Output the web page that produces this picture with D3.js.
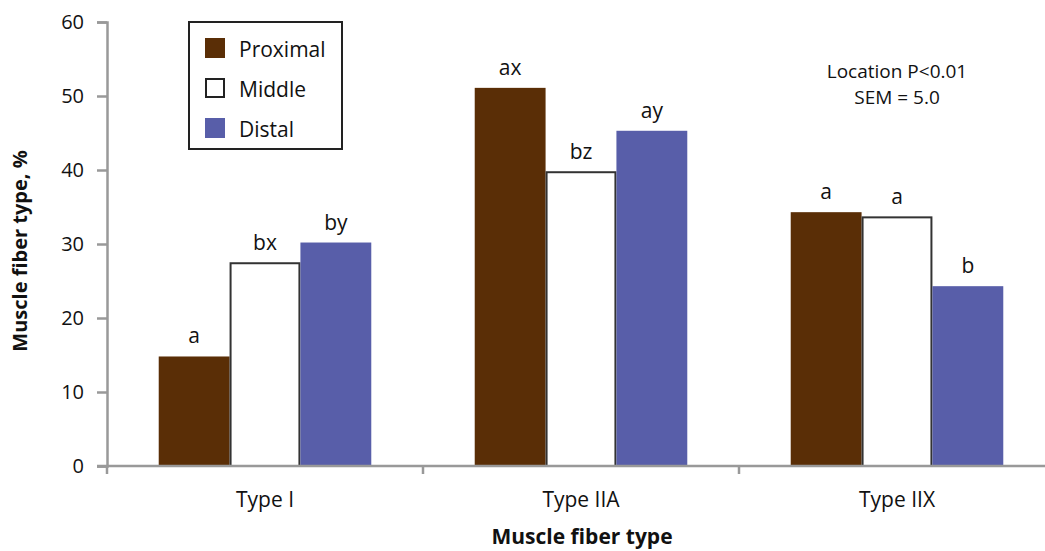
<!DOCTYPE html>
<html><head><meta charset="utf-8">
<script src="https://cdn.jsdelivr.net/npm/d3@7"></script>
<style>body{margin:0;background:#fff}svg{display:block}text{font-family:"Open Sans",sans-serif}</style>
</head><body><svg id="c" width="1045" height="551"></svg>
<script>
const categories = ["Type I", "Type IIA", "Type IIX"];
const seriesNames = ["Proximal", "Middle", "Distal"];
const proximal = [14.8, 51.1, 34.3];
const middle = [27.4, 39.7, 33.6];
const distal = [30.2, 45.3, 24.3];
const letters = [["a","bx","by"],["ax","bz","ay"],["a","a","b"]];
const yTicks = [0,10,20,30,40,50,60];

const svg = d3.select("#c");
const mLeft = 107, mRight = 1055, mTop = 22, mBottom = 466;
const x = d3.scaleBand().domain(categories).range([mLeft, mRight]).paddingInner(0).paddingOuter(0);
const x1 = d3.scaleBand().domain(seriesNames).range([0, x.bandwidth()]).paddingInner(0).paddingOuter(0.73);
const y = d3.scaleLinear().domain([0,60]).range([mBottom, mTop]);
const colors = {Proximal:"#5a2e06", Middle:"#ffffff", Distal:"#585ea9"};
const series = [proximal, middle, distal];

const data = [];
categories.forEach((c,i)=>seriesNames.forEach((s,j)=>data.push({c,s,v:series[j][i],l:letters[i][j]})));

svg.selectAll("rect.bar").data(data).join("rect")
  .attr("class","bar")
  .attr("x",d=>x(d.c)+x1(d.s)+(d.s==="Middle"?1:0))
  .attr("width",d=>x1.bandwidth()-(d.s==="Middle"?2:0))
  .attr("y",d=>y(d.v))
  .attr("height",d=>y(0)-y(d.v))
  .attr("fill",d=>colors[d.s])
  .attr("stroke",d=>d.s==="Middle"?"#333":"none")
  .attr("stroke-width",2);

svg.selectAll("text.lab").data(data).join("text")
  .attr("class","lab")
  .attr("x",d=>x(d.c)+x1(d.s)+x1.bandwidth()/2)
  .attr("y",d=>y(d.v)-13)
  .attr("text-anchor","middle")
  .attr("font-size",21).attr("fill","#111")
  .text(d=>d.l);

// y axis
const ya = svg.append("g").attr("transform",`translate(${mLeft},0)`)
  .call(d3.axisLeft(y).tickValues(yTicks).tickSize(10).tickPadding(13).tickFormat(d3.format("d")));
ya.attr("font-size",20).attr("font-family","Open Sans");
ya.select(".domain").attr("stroke","#999").attr("stroke-width",2.5);
ya.selectAll(".tick line").attr("stroke","#999").attr("stroke-width",2.5);
ya.selectAll(".tick text").attr("fill","#111");

// x axis
const xa = svg.append("g").attr("transform",`translate(0,${mBottom})`)
  .call(d3.axisBottom(x).tickSize(0).tickPadding(26));
xa.attr("font-size",21).attr("font-family","Open Sans");
xa.select(".domain").remove();
xa.append("line").attr("x1",mLeft-10).attr("x2",1045).attr("y1",0).attr("y2",0).attr("stroke","#999").attr("stroke-width",2.5);
xa.selectAll(".tick text").attr("fill","#111");
xa.selectAll("line.div").data(categories).join("line").attr("class","div")
  .attr("x1",d=>x(d)).attr("x2",d=>x(d)).attr("y1",0).attr("y2",8)
  .attr("stroke","#999").attr("stroke-width",2.5);

// titles
svg.append("text").attr("x",582).attr("y",544).attr("text-anchor","middle")
  .attr("font-size",21).attr("font-weight","bold").attr("fill","#111").text("Muscle fiber type");
svg.append("text").attr("transform","translate(27,251) rotate(-90)").attr("text-anchor","middle")
  .attr("font-size",20).attr("font-weight","bold").attr("fill","#111").text("Muscle fiber type, %");

// annotation
svg.append("text").attr("x",897).attr("y",78).attr("text-anchor","middle").attr("font-size",19).attr("fill","#111").text("Location P<0.01");
svg.append("text").attr("x",897).attr("y",104).attr("text-anchor","middle").attr("font-size",19).attr("fill","#111").text("SEM = 5.0");

// legend
const lg = svg.append("g");
lg.append("rect").attr("x",189).attr("y",22).attr("width",153).attr("height",127).attr("fill","#fff").attr("stroke","#222").attr("stroke-width",2);
seriesNames.forEach((s,i)=>{
  const yy = 38 + i*40;
  lg.append("rect").attr("x",s==="Middle"?206:205).attr("y",s==="Middle"?yy+1:yy)
    .attr("width",s==="Middle"?18:20).attr("height",s==="Middle"?18:20)
    .attr("fill",colors[s]).attr("stroke",s==="Middle"?"#222":"none").attr("stroke-width",2);
  lg.append("text").attr("x",239).attr("y",yy+19).attr("font-size",21).attr("fill","#111").text(s);
});
</script></body></html>
